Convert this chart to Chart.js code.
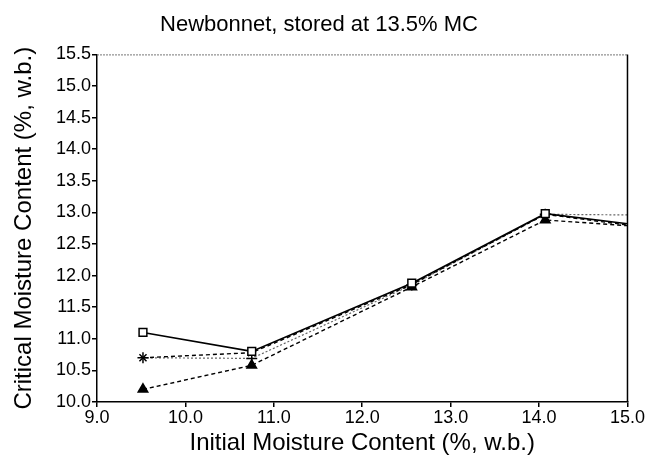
<!DOCTYPE html>
<html>
<head>
<meta charset="utf-8">
<title>Newbonnet</title>
<script src="https://cdn.jsdelivr.net/npm/chart.js@4.4.1/dist/chart.umd.min.js"></script>
<style>
  body { margin: 0; background: #fff; }
  canvas { display: block; }
</style>
</head>
<body>
<canvas id="chart" width="645" height="460"></canvas>
<script>
// data
const initialMC = [9.52, 10.75, 12.56, 14.07, 15.0];
const squareSeries = [11.1, 10.8, 11.88, 12.98, 12.82];
const crossRotSeries = [10.7, 10.78, 11.86, 12.97, 12.80];
const crossSeries = [10.7, 10.69, 11.85, 12.97, 12.96];
const triangleSeries = [10.2, 10.58, 11.82, 12.88, 12.79];

const xTicks = [9, 10, 11, 12, 13, 14, 15];
const yTicks = [10, 10.5, 11, 11.5, 12, 12.5, 13, 13.5, 14, 14.5, 15, 15.5];

const FONT = "'Liberation Sans', Arial, sans-serif";

function toPoints(values) {
    return values.map((v, i) => ({ x: initialMC[i], y: v }));
}

// last value sits on the right frame, no marker there
function markerSize(r) {
    return ctx => (ctx.raw && ctx.raw.x >= 15 ? 0 : r);
}

function makeSet(values, style, dash, color, r, width) {
    return {
        data: toPoints(values),
        borderColor: color,
        backgroundColor: color,
        borderWidth: width,
        borderDash: dash,
        pointStyle: style,
        pointRadius: markerSize(r),
        pointBorderColor: '#000',
        pointBackgroundColor: style === 'triangle' ? '#000' : '#fff',
        pointBorderWidth: 1.5,
        tension: 0,
        fill: false
    };
}

// box around the plot: dotted top, solid right
const frame = {
    id: 'frame',
    afterDraw(chart) {
        const a = chart.chartArea;
        const c = chart.ctx;
        c.save();
        c.strokeStyle = '#777';
        c.lineWidth = 1;
        c.setLineDash([2, 1]);
        c.beginPath();
        c.moveTo(a.left, a.top + 0.5);
        c.lineTo(a.right, a.top + 0.5);
        c.stroke();
        c.setLineDash([]);
        c.strokeStyle = '#000';
        c.lineWidth = 1.5;
        c.beginPath();
        c.moveTo(a.right, a.top);
        c.lineTo(a.right, a.bottom);
        c.stroke();
        c.restore();
    }
};

new Chart(document.getElementById('chart'), {
    type: 'line',
    data: {
        datasets: [
            makeSet(squareSeries, 'rect', [], '#000', 5.5, 1.7),
            makeSet(crossRotSeries, 'crossRot', [4, 3], '#000', 5, 1.4),
            makeSet(crossSeries, 'cross', [2, 2], '#666', 5.5, 1.2),
            makeSet(triangleSeries, 'triangle', [4, 3], '#000', 5.5, 1.4)
        ]
    },
    options: {
        responsive: false,
        animation: false,
        layout: { padding: { left: 8, right: 15, top: 0, bottom: 0 } },
        plugins: {
            legend: { display: false },
            tooltip: { enabled: false },
            title: {
                display: true,
                text: 'Newbonnet, stored at 13.5% MC',
                color: '#000',
                font: { family: FONT, size: 22, weight: 'normal' },
                padding: { top: 12, bottom: 16 }
            }
        },
        scales: {
            x: {
                type: 'linear',
                min: 9,
                max: 15,
                afterBuildTicks: s => { s.ticks = xTicks.map(v => ({ value: v })); },
                afterFit: s => { s.height = 58; },
                ticks: {
                    color: '#000',
                    padding: 0,
                    maxRotation: 0,
                    font: { family: FONT, size: 18 },
                    callback: v => v.toFixed(1)
                },
                grid: { drawOnChartArea: false, tickLength: 5, color: '#000', lineWidth: 1.5 },
                border: { color: '#000', width: 1.5 },
                title: {
                    display: true,
                    text: 'Initial Moisture Content (%, w.b.)',
                    color: '#000',
                    font: { family: FONT, size: 24 },
                    padding: { top: 0, bottom: 2 }
                }
            },
            y: {
                type: 'linear',
                min: 10,
                max: 15.5,
                afterBuildTicks: s => { s.ticks = yTicks.map(v => ({ value: v })); },
                afterFit: s => { s.width = 89; },
                ticks: {
                    color: '#000',
                    padding: 1,
                    font: { family: FONT, size: 18 },
                    callback: v => v.toFixed(1)
                },
                grid: { drawOnChartArea: false, tickLength: 5, color: '#000', lineWidth: 1.5 },
                border: { color: '#000', width: 1.5 },
                title: {
                    display: true,
                    text: 'Critical Moisture Content (%, w.b.)',
                    color: '#000',
                    font: { family: FONT, size: 24 },
                    padding: { top: 2, bottom: 2 }
                }
            }
        }
    },
    plugins: [frame]
});
</script>
</body>
</html>
